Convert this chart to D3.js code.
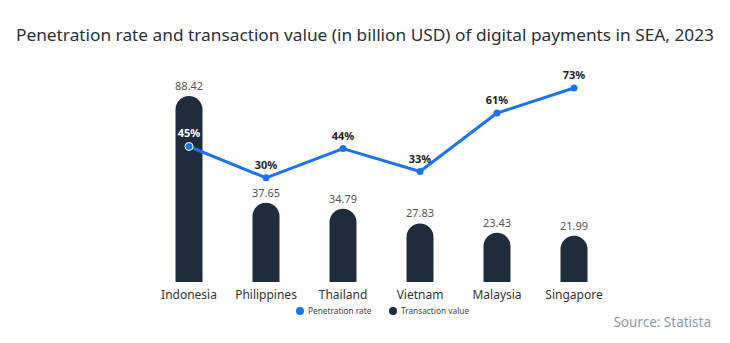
<!DOCTYPE html>
<html><head><meta charset="utf-8">
<script src="https://cdn.jsdelivr.net/npm/d3@7"></script>
<style>body{margin:0;background:#fff;} svg{display:block;font-family:"Noto Sans",sans-serif;}</style>
</head><body>
<script>
const categories = ["Indonesia","Philippines","Thailand","Vietnam","Malaysia","Singapore"];
const transactionValue = [88.42,37.65,34.79,27.83,23.43,21.99];
const penetrationRate = [45,30,44,33,61,73];
const seriesNames = ["Penetration rate","Transaction value"];

const W=730,H=343;
const svg=d3.select("body").append("svg").attr("width",W).attr("height",H);
const blue="#1a73f0", dark="#1f2c3d";

svg.append("text").attr("x",365).attr("y",41).attr("text-anchor","middle")
  .attr("font-size",17).attr("font-weight",400).attr("fill","#2a2f36")
  .attr("textLength",698).attr("lengthAdjust","spacingAndGlyphs")
  .text("Penetration rate and transaction value (in billion USD) of digital payments in SEA, 2023");

const x=d3.scaleBand().domain(categories).range([150.5,612.5]).padding(0);
const yBar=d3.scaleLinear().domain([0,88.42]).range([282,96]);
const yLine=d3.scaleLinear().domain([0,73]).range([240.5,88]);
const bw=27;
const cx=c=>x(c)+x.bandwidth()/2;

// bars
categories.forEach((c,i)=>{
  const v=transactionValue[i];
  const x0=cx(c)-bw/2, x1=cx(c)+bw/2, yt=yBar(v), yb=yBar(0), r=bw/2;
  const p=`M${x0},${yb}L${x0},${yt+r}A${r},${r} 0 0 1 ${x1},${yt+r}L${x1},${yb}Z`;
  svg.append("path").attr("d",p).attr("fill",dark);
  svg.append("text").attr("x",cx(c)).attr("y",yt-6).attr("text-anchor","middle")
    .attr("font-size",11).attr("fill","#555").text(v.toFixed(2));
});

// x labels
const xAxis=svg.append("g").attr("transform","translate(0,282)")
  .call(d3.axisBottom(x).tickSize(0).tickPadding(8));
xAxis.select(".domain").remove();
xAxis.selectAll("text").attr("font-size",12).attr("fill","#333").attr("font-family","Noto Sans, sans-serif");

// line
const line=d3.line().x((d,i)=>cx(categories[i])).y(d=>yLine(d));
svg.append("path").datum(penetrationRate).attr("d",line).attr("fill","none")
  .attr("stroke",blue).attr("stroke-width",3).attr("stroke-linejoin","round");
penetrationRate.forEach((v,i)=>{
  const c=categories[i];
  svg.append("circle").attr("cx",cx(c)).attr("cy",yLine(v)).attr("r",i===0?4:3.5)
    .attr("fill",blue).attr("stroke",i===0?"#fff":"none").attr("stroke-width",1);
  svg.append("text").attr("x",cx(c)).attr("y",yLine(v)-9).attr("text-anchor","middle")
    .attr("font-size",11).attr("font-weight",700).attr("fill",i===0?"#fff":"#222").text(v+"%");
});

// legend
const lg=[{n:seriesNames[0],c:blue,x:300},{n:seriesNames[1],c:dark,x:393}];
lg.forEach(l=>{
  svg.append("circle").attr("cx",l.x).attr("cy",311).attr("r",4).attr("fill",l.c);
  svg.append("text").attr("x",l.x+8).attr("y",314).attr("font-size",8.3).attr("fill","#444").text(l.n);
});

svg.append("text").attr("x",711).attr("y",327).attr("text-anchor","end")
  .attr("font-size",13.5).attr("fill","#8b9aab").text("Source: Statista");
</script>
</body></html>
